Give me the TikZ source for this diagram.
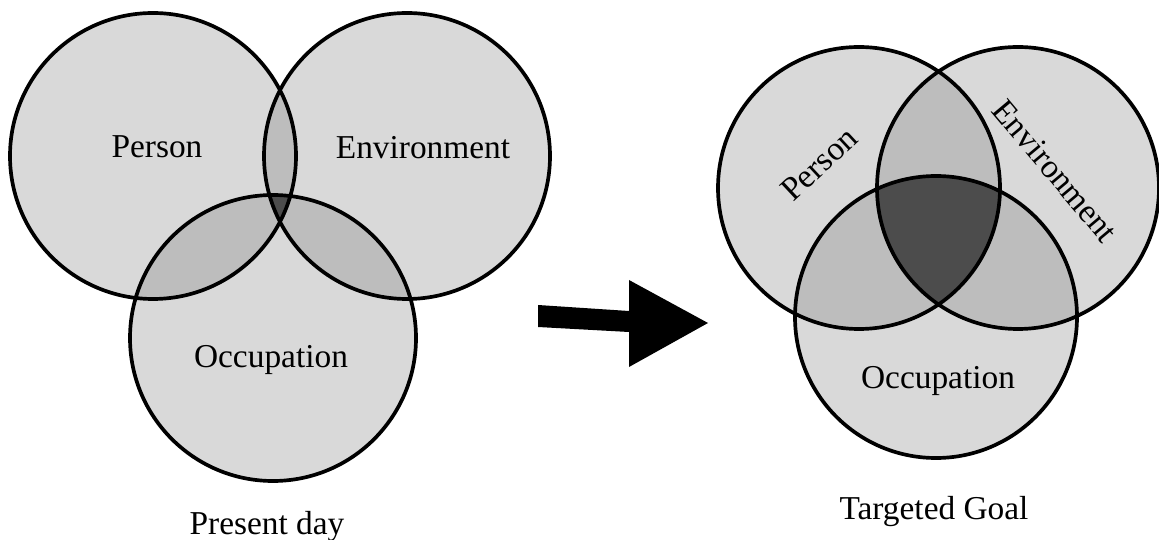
\documentclass[tikz,border=0pt]{standalone}
\usepackage{fontspec}
\setmainfont{Liberation Serif}
\usepackage{tikz}
\usetikzlibrary{positioning}
\definecolor{onecol}{gray}{0.85}
\definecolor{twocol}{gray}{0.74}
\definecolor{threecol}{gray}{0.30}
\tikzstyle{ring}=[draw=black, line width=2.1pt]
\tikzstyle{lbl}=[inner sep=0pt, anchor=base, font=\fontsize{19}{23}\selectfont]
\tikzstyle{rlbl}=[inner sep=0pt, font=\fontsize{19}{23}\selectfont]
\def\rleft{143}
\def\rright{141}

\begin{document}
\begin{tikzpicture}[x=0.02cm,y=-0.02cm]
\useasboundingbox (0,0) rectangle (1159,540);

% present day
\coordinate (p1) at (153,156);
\coordinate (e1) at (407,156);
\coordinate (o1) at (273,338);
\fill[onecol] (p1) circle (\rleft) (e1) circle (\rleft) (o1) circle (\rleft);
\begin{scope}
  \clip (p1) circle (\rleft);
  \fill[twocol] (e1) circle (\rleft) (o1) circle (\rleft);
\end{scope}
\begin{scope}
  \clip (e1) circle (\rleft);
  \fill[twocol] (o1) circle (\rleft);
\end{scope}
\begin{scope}
  \clip (p1) circle (\rleft);
  \clip (e1) circle (\rleft);
  \fill[threecol] (o1) circle (\rleft);
\end{scope}
\draw[ring] (p1) circle (\rleft) (e1) circle (\rleft) (o1) circle (\rleft);

\node[lbl] at (157,158) (person1) {Person};
\node[lbl] at (423,159) (env1) {Environment};
\node[lbl] at (271,367) (occ1) {Occupation};
\node[lbl] at (267,534) (now) {Present day};

% arrow
\fill[black] (538,305) -- (629,311) -- (629,280) -- (708,323) -- (629,367) -- (629,332) -- (538,327) -- cycle;

% targeted goal
\coordinate (p2) at (859,188);
\coordinate (e2) at (1018,188);
\coordinate (o2) at (936,317);
\fill[onecol] (p2) circle (\rright) (e2) circle (\rright) (o2) circle (\rright);
\begin{scope}
  \clip (p2) circle (\rright);
  \fill[twocol] (e2) circle (\rright) (o2) circle (\rright);
\end{scope}
\begin{scope}
  \clip (e2) circle (\rright);
  \fill[twocol] (o2) circle (\rright);
\end{scope}
\begin{scope}
  \clip (p2) circle (\rright);
  \clip (e2) circle (\rright);
  \fill[threecol] (o2) circle (\rright);
\end{scope}
\draw[ring] (p2) circle (\rright) (e2) circle (\rright) (o2) circle (\rright);

\node[rlbl, rotate=43] at (819,164) (person2) {Person};
\node[rlbl, rotate=-50] at (1055,171) (env2) {Environment};
\node[lbl] at (938,388) (occ2) {Occupation};
\node[lbl] at (934,519) (goal) {Targeted Goal};
\end{tikzpicture}
\end{document}
